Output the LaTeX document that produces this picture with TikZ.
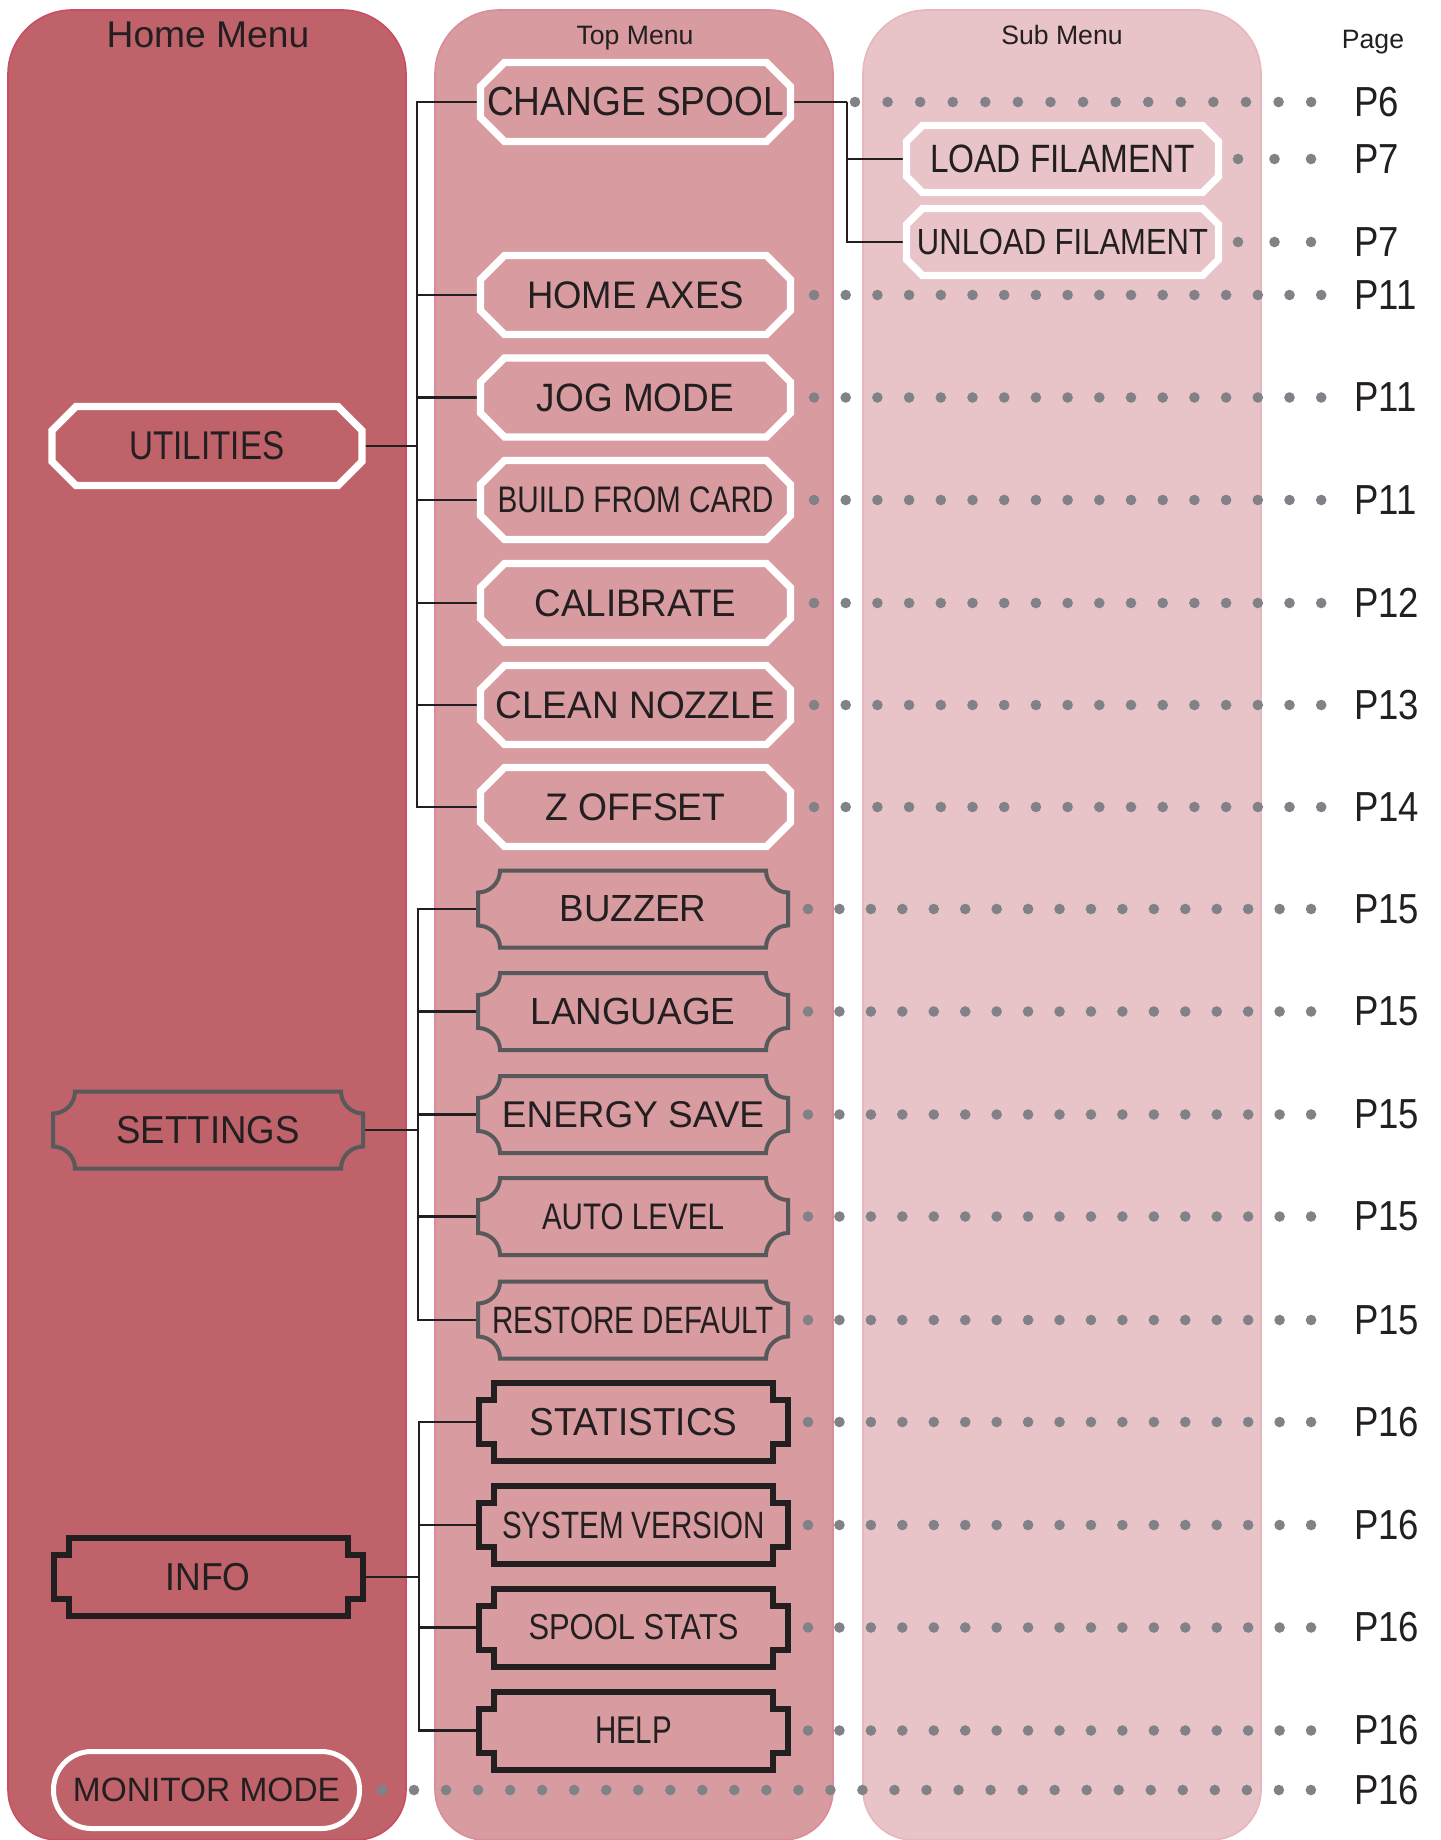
\documentclass[tikz,border=0pt]{standalone}
\usepackage{fontspec}
\setmainfont{Liberation Sans}
\newfontfamily\pagefont{Liberation Sans}[FakeStretch=0.87]
\usepackage{graphicx}
\usepackage{tikz}
\usetikzlibrary{calc}
\definecolor{homered}{HTML}{C06269}
\definecolor{homeedge}{HTML}{C94E62}
\definecolor{topred}{HTML}{D89BA0}
\definecolor{topedge}{HTML}{DA8D98}
\definecolor{subred}{HTML}{E8C3C7}
\definecolor{subedge}{HTML}{E8B6BD}
\definecolor{ink}{HTML}{231F20}
\definecolor{setgrey}{HTML}{58595B}
\definecolor{dotgrey}{HTML}{808287}

\newcommand{\boxlabel}[3]{\resizebox{#1pt}{#2pt}{#3}}

\begin{document}
\begin{tikzpicture}[x=0.5pt, y=-0.5pt,
      lbl/.style={inner sep=0pt, outer sep=0pt, text=ink},
      octbox/.style={lbl, minimum width=155pt, minimum height=39.5pt},
      subbox/.style={lbl, minimum width=156pt, minimum height=33.5pt},
      tixbox/.style={lbl, minimum width=155pt, minimum height=38.5pt},
      notchbox/.style={lbl, minimum width=154.5pt, minimum height=39pt},
      octline/.style={draw=white, line width=3.6pt},
      tixline/.style={draw=setgrey, line width=2pt},
      notchline/.style={draw=ink, line width=3pt},
      conn/.style={draw=ink, line width=1.25pt},
      leader/.style={draw=dotgrey, line width=5.3pt, line cap=round,
                     dash pattern=on 0pt off #1},
      pagelbl/.style={anchor=west, inner sep=0pt, outer sep=0pt, text=ink,
                      font=\pagefont\fontsize{21}{25}\selectfont},
      colhead/.style={anchor=base, inner sep=0pt, text=ink,
                      font=\fontsize{13.3}{16}\selectfont}
  ]
    \useasboundingbox (0,0) rectangle (1440,1840);

    % columns
    \filldraw[fill=homered, draw=homeedge, line width=0.8pt, rounded corners=32pt]
      (8,900) -- (8,10) -- (406,10) -- (406,900) [rounded corners=25pt] -- (406,1840) -- (8,1840) -- cycle;
    \filldraw[fill=topred, draw=topedge, line width=0.8pt, rounded corners=32pt]
      (435,900) -- (435,10) -- (833,10) -- (833,900) [rounded corners=25pt] -- (833,1840) -- (435,1840) -- cycle;
    \filldraw[fill=subred, draw=subedge, line width=0.8pt, rounded corners=32pt]
      (863,900) -- (863,10) -- (1261,10) -- (1261,900) [rounded corners=25pt] -- (1261,1840) -- (863,1840) -- cycle;

    \node[colhead, font=\fontsize{18.6}{22}\selectfont] (homehd) at (208,48) {Home Menu};
    \node[colhead] (tophd) at (635,45) {Top Menu};
    \node[colhead] (subhd) at (1062,45) {Sub Menu};
    \node[colhead] (pagehd) at (1373,49) {Page};

    % home menu
    \node[octbox] (util) at (207,446) {\boxlabel{77.5}{14}{UTILITIES}};
    \node[tixbox] (settings) at (208,1130) {\boxlabel{91.5}{13.6}{SETTINGS}};
    \node[notchbox] (info) at (208,1577) {\boxlabel{42.5}{13.6}{INFO}};
    \node[lbl, draw=white, line width=2.5pt, rounded corners=19pt,
          minimum width=153pt, minimum height=38.5pt] (monitor) at (206.5,1790)
          {\boxlabel{133.5}{11.8}{MONITOR MODE}};

    % top menu
    \node[octbox] (spool) at (635.5,102) {\boxlabel{148.5}{14.2}{CHANGE SPOOL}};
    \node[octbox] (hax) at (635.5,295) {\boxlabel{108.5}{13.4}{HOME AXES}};
    \node[octbox] (jog) at (635.5,397.5) {\boxlabel{98.5}{13.8}{JOG MODE}};
    \node[octbox] (card) at (635.5,500) {\boxlabel{138}{12.9}{BUILD FROM CARD}};
    \node[octbox] (calib) at (635.5,603) {\boxlabel{101}{13.4}{CALIBRATE}};
    \node[octbox] (clean) at (635.5,705) {\boxlabel{140}{13.4}{CLEAN NOZZLE}};
    \node[octbox] (zoff) at (635.5,807) {\boxlabel{90}{13.4}{Z OFFSET}};

    \node[tixbox] (buzzer) at (633,909) {\boxlabel{73.5}{13}{BUZZER}};
    \node[tixbox] (lang) at (633,1011.5) {\boxlabel{102.5}{13.2}{LANGUAGE}};
    \node[tixbox] (energy) at (633,1114.5) {\boxlabel{131}{13}{ENERGY SAVE}};
    \node[tixbox] (auto) at (633,1216.5) {\boxlabel{91}{12.9}{AUTO LEVEL}};
    \node[tixbox] (restore) at (633,1320) {\boxlabel{141}{13.3}{RESTORE DEFAULT}};

    \node[notchbox] (stats) at (633.5,1422) {\boxlabel{104}{13.6}{STATISTICS}};
    \node[notchbox] (sysver) at (633.5,1525) {\boxlabel{131.5}{13.3}{SYSTEM VERSION}};
    \node[notchbox] (spstats) at (633.5,1627.5) {\boxlabel{105}{12.6}{SPOOL STATS}};
    \node[notchbox] (help) at (633.5,1730.5) {\boxlabel{38.5}{13.3}{HELP}};

    % sub menu
    \node[subbox] (load) at (1062.5,159) {\boxlabel{132.5}{13.8}{LOAD FILAMENT}};
    \node[subbox] (unload) at (1062.5,242) {\boxlabel{145.5}{12.7}{UNLOAD FILAMENT}};

    % pages
    \node[pagelbl] (p6) at (1354,102) {P6};
    \node[pagelbl] (p7a) at (1354,159) {P7};
    \node[pagelbl] (p7b) at (1354,242) {P7};
    \node[pagelbl] (p11a) at (1354,295) {P11};
    \node[pagelbl] (p11b) at (1354,397.5) {P11};
    \node[pagelbl] (p11c) at (1354,500) {P11};
    \node[pagelbl] (p12) at (1354,603) {P12};
    \node[pagelbl] (p13) at (1354,705) {P13};
    \node[pagelbl] (p14) at (1354,807) {P14};
    \node[pagelbl] (p15a) at (1354,909) {P15};
    \node[pagelbl] (p15b) at (1354,1011.5) {P15};
    \node[pagelbl] (p15c) at (1354,1114.5) {P15};
    \node[pagelbl] (p15d) at (1354,1216.5) {P15};
    \node[pagelbl] (p15e) at (1354,1320) {P15};
    \node[pagelbl] (p16a) at (1354,1422) {P16};
    \node[pagelbl] (p16b) at (1354,1525) {P16};
    \node[pagelbl] (p16c) at (1354,1627.5) {P16};
    \node[pagelbl] (p16d) at (1354,1730.5) {P16};
    \node[pagelbl] (p16e) at (1354,1790) {P16};

    % tree connectors
    \coordinate (utrunk) at (417,446);
    \coordinate (strunk) at (418,1130);
    \coordinate (itrunk) at (419,1577);
    \coordinate (ftrunk) at (847,102);
    \draw[conn] (util.east) -- (utrunk);
    \foreach \n in {spool,hax,jog,card,calib,clean,zoff}
      \draw[conn] (utrunk) |- (\n.west);
    \draw[conn] (settings.east) -- (strunk);
    \foreach \n in {buzzer,lang,energy,auto,restore}
      \draw[conn] (strunk) |- (\n.west);
    \draw[conn] (info.east) -- (itrunk);
    \foreach \n in {stats,sysver,spstats,help}
      \draw[conn] (itrunk) |- (\n.west);
    \draw[conn] (spool.east) -- (ftrunk);
    \foreach \n in {load,unload}
      \draw[conn] (ftrunk) |- (\n.west);

    % dotted leaders to the pages
    \draw[leader=16.29pt, shorten <=32.25pt, shorten >=20.75pt] (spool.east) -- (p6.west);
    \draw[leader=18.25pt, shorten <=9.75pt, shorten >=20.75pt] (load.east) -- (p7a.west);
    \draw[leader=18.25pt, shorten <=9.75pt, shorten >=20.75pt] (unload.east) -- (p7b.west);
    \foreach \n/\p in {hax/p11a,jog/p11b,card/p11c,calib/p12,clean/p13,zoff/p14}
      \draw[leader=15.85pt, shorten <=11.75pt, shorten >=15.75pt] (\n.east) -- (\p.west);
    \foreach \n/\p in {buzzer/p15a,lang/p15b,energy/p15c,auto/p15d,restore/p15e,
                       stats/p16a,sysver/p16b,spstats/p16c,help/p16d}
      \draw[leader=15.72pt, shorten <=10pt, shorten >=20.75pt] (\n.east) -- (\p.west);
    \foreach \k in {0,...,29}
      \fill[dotgrey] ($(monitor.east)+({22.5+32.03*\k},0)$) circle[radius=2.65pt];

    % box outlines
    \foreach \n/\c in {util/24,spool/24,hax/24,jog/24,card/24,calib/24,clean/24,zoff/24,load/16,unload/16}
      \draw[octline] ($(\n.north west)+(\c,0)$) -- ($(\n.north east)+(-\c,0)$) -- ($(\n.north east)+(0,\c)$)
        -- ($(\n.south east)+(0,-\c)$) -- ($(\n.south east)+(-\c,0)$) -- ($(\n.south west)+(\c,0)$)
        -- ($(\n.south west)+(0,-\c)$) -- ($(\n.north west)+(0,\c)$) -- cycle;
    \foreach \n in {settings,buzzer,lang,energy,auto,restore}
      \draw[tixline] ($(\n.north west)+(22,0)$) -- ($(\n.north east)+(-22,0)$)
        .. controls ($(\n.north east)+(-22,12)$) and ($(\n.north east)+(-12,22)$) .. ($(\n.north east)+(0,22)$)
        -- ($(\n.south east)+(0,-22)$)
        .. controls ($(\n.south east)+(-12,-22)$) and ($(\n.south east)+(-22,-12)$) .. ($(\n.south east)+(-22,0)$)
        -- ($(\n.south west)+(22,0)$)
        .. controls ($(\n.south west)+(22,-12)$) and ($(\n.south west)+(12,-22)$) .. ($(\n.south west)+(0,-22)$)
        -- ($(\n.north west)+(0,22)$)
        .. controls ($(\n.north west)+(12,22)$) and ($(\n.north west)+(22,12)$) .. ($(\n.north west)+(22,0)$) -- cycle;
    \foreach \n in {info,stats,sysver,spstats,help}
      \draw[notchline] ($(\n.north west)+(15,0)$) -- ($(\n.north east)+(-15,0)$) -- ++(0,17)
        -- ($(\n.north east)+(0,17)$) -- ($(\n.south east)+(0,-17)$) -- ++(-15,0)
        -- ($(\n.south east)+(-15,0)$) -- ($(\n.south west)+(15,0)$) -- ++(0,-17)
        -- ($(\n.south west)+(0,-17)$) -- ($(\n.north west)+(0,17)$) -- ++(15,0) -- cycle;
  \end{tikzpicture}
\end{document}
